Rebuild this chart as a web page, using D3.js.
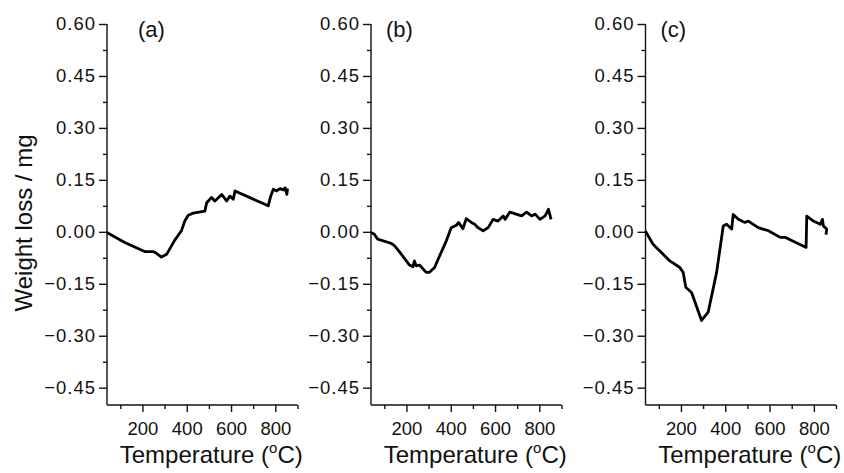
<!DOCTYPE html>
<html>
<head>
<meta charset="utf-8">
<script src="https://cdn.jsdelivr.net/npm/d3@7"></script>
<style>
	body { margin: 0; background: #fff; }
	svg { display: block; }
	text { font-family: Arial, "Liberation Sans", sans-serif; fill: #111; }
</style>
</head>
<body>
<svg id="chart" width="844" height="473"></svg>
<script>
// panel (a)
const tempA = [40, 120, 210, 248, 263, 286, 309, 346, 376, 391, 407, 429, 482, 490, 512, 527, 558, 580, 595, 610, 618, 768, 779, 791, 806, 821, 836, 844, 852, 855];
const lossA = [-0.002, -0.031, -0.057, -0.057, -0.062, -0.073, -0.065, -0.024, 0.003, 0.031, 0.048, 0.054, 0.060, 0.084, 0.099, 0.089, 0.108, 0.089, 0.103, 0.094, 0.118, 0.075, 0.103, 0.123, 0.118, 0.125, 0.121, 0.127, 0.108, 0.125];

// panel (b)
const tempB = [40, 55, 70, 130, 146, 176, 214, 229, 236, 244, 259, 289, 304, 327, 350, 380, 402, 425, 436, 455, 470, 493, 508, 523, 546, 569, 591, 614, 637, 645, 667, 720, 742, 765, 781, 803, 826, 841, 853];
const lossB = [-0.002, -0.007, -0.021, -0.033, -0.040, -0.064, -0.096, -0.101, -0.084, -0.098, -0.096, -0.117, -0.117, -0.103, -0.069, -0.026, 0.012, 0.019, 0.027, 0.009, 0.038, 0.027, 0.022, 0.012, 0.003, 0.012, 0.036, 0.031, 0.046, 0.036, 0.057, 0.046, 0.057, 0.046, 0.051, 0.036, 0.046, 0.065, 0.036];

// panel (c)
const tempC = [40, 74, 150, 195, 210, 222, 248, 293, 323, 361, 391, 406, 429, 436, 459, 489, 504, 549, 595, 648, 670, 765, 768, 798, 829, 839, 843, 858, 855];
const lossC = [0.002, -0.036, -0.084, -0.103, -0.117, -0.160, -0.175, -0.256, -0.232, -0.117, 0.017, 0.022, 0.008, 0.050, 0.036, 0.027, 0.031, 0.012, 0.003, -0.016, -0.016, -0.045, 0.045, 0.031, 0.022, 0.036, 0.017, 0.008, -0.008];

const panelLabels = ["(a)", "(b)", "(c)"];
const yMajor = [0.60, 0.45, 0.30, 0.15, 0.00, -0.15, -0.30, -0.45];
const yMinor = [0.525, 0.375, 0.225, 0.075, -0.075, -0.225, -0.375];
const xMajor = [200, 400, 600, 800];
const xMinor = [100, 300, 500, 700, 900];

const svg = d3.select("#chart");
const plotTop = 24, plotBottom = 405;
const panelLeft = [107, 371, 645.5];
const panelWidth = 190.5;
const series = [[tempA, lossA], [tempB, lossB], [tempC, lossC]];

const y = d3.scaleLinear().domain([-0.5, 0.6]).range([plotBottom, plotTop]);

series.forEach(([temps, losses], i) => {
	const left = panelLeft[i];
	const x = d3.scaleLinear().domain([40, 900]).range([left, left + panelWidth]);
	const g = svg.append("g");

	// y axis
	const yAxis = d3.axisLeft(y).tickValues(yMajor).tickSize(8).tickPadding(3)
		.tickFormat(d3.format(".2f"));
	const ya = g.append("g").attr("transform", `translate(${left},0)`).call(yAxis);
	ya.select(".domain").attr("d", `M0,${plotTop}V${plotBottom}`);
	g.append("g").attr("transform", `translate(${left},0)`)
		.call(d3.axisLeft(y).tickValues(yMinor).tickSize(4).tickFormat(""))
		.select(".domain").remove();

	// x axis
	const xa = g.append("g").attr("transform", `translate(0,${plotBottom})`)
		.call(d3.axisBottom(x).tickValues(xMajor).tickSize(7).tickPadding(10));
	xa.select(".domain").attr("d", `M${left},0H${x(900)}`);
	g.append("g").attr("transform", `translate(0,${plotBottom})`)
		.call(d3.axisBottom(x).tickValues(xMinor).tickSize(4).tickFormat(""))
		.select(".domain").remove();

	g.selectAll(".domain, .tick line").attr("stroke", "#111").attr("stroke-width", 1.4);
	g.selectAll(".tick text").attr("font-size", 18.5).attr("fill", "#111")
		.style("font-family", "Arial, 'Liberation Sans', sans-serif");
	ya.selectAll(".tick text").attr("letter-spacing", 1);

	// curve
	const pts = temps.map((t, k) => [t, losses[k]]);
	g.append("path")
		.datum(pts)
		.attr("fill", "none")
		.attr("stroke", "#000")
		.attr("stroke-width", 2.8)
		.attr("stroke-linejoin", "round")
		.attr("d", d3.line().x(d => x(d[0])).y(d => y(d[1])));

	// panel label
	g.append("text")
		.attr("x", left + [31, 15, 15][i])
		.attr("y", 37)
		.attr("font-size", 22)
		.text(panelLabels[i]);

	// x axis title
	const xt = g.append("text")
		.attr("x", left + panelWidth / 2 + 9)
		.attr("y", 463)
		.attr("text-anchor", "middle")
		.attr("font-size", 24);
	xt.append("tspan").text("Temperature (");
	xt.append("tspan").attr("font-size", 15).attr("dy", -10).text("o");
	xt.append("tspan").attr("dy", 10).text("C)");
});

// y axis title
svg.append("text")
	.attr("transform", "translate(32,223) rotate(-90)")
	.attr("text-anchor", "middle")
	.attr("font-size", 24)
	.text("Weight loss / mg");
</script>
</body>
</html>
